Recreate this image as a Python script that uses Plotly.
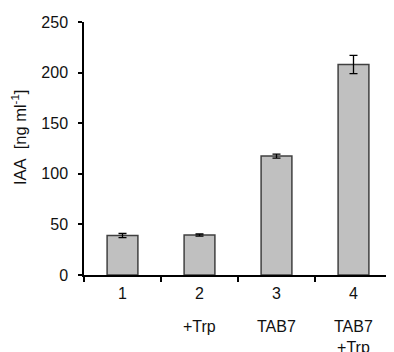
import plotly.graph_objects as go

categories = ["1", "2", "3", "4"]
sublabels = ["", "+Trp", "TAB7", "TAB7<br>+Trp"]
values = [39, 39.5, 117.5, 208]
errors = [2, 1, 2, 9]
y_ticks = [0, 50, 100, 150, 200, 250]

FONT = "Liberation Sans, Arial, sans-serif"

fig = go.Figure()
fig.add_trace(go.Bar(
    x=categories, y=values, width=0.4,
    marker=dict(color="#c0c0c0", line=dict(color="#404040", width=1.5)),
    error_y=dict(type="data", array=errors, visible=True, color="#000000",
                 thickness=1.3, width=4),
))

for i, s in enumerate(sublabels):
    if s:
        fig.add_annotation(x=i, y=0, xref="x", yref="y", text=s, showarrow=False,
                           xanchor="center", yanchor="top", yshift=-41,
                           font=dict(family=FONT, size=16, color="#111"),
                           align="center")

fig.add_annotation(xref="paper", yref="paper", x=0, y=0.545, xshift=-65,
                   xanchor="center", yanchor="middle",
                   text="IAA&nbsp;&nbsp;[ng ml<sup>-1</sup>]", textangle=-90, showarrow=False,
                   font=dict(family=FONT, size=16.5, color="#111"))

fig.update_layout(
    width=386, height=344,
    margin=dict(l=76, r=2, t=14, b=77),
    paper_bgcolor="white", plot_bgcolor="white",
    showlegend=False,
    font=dict(family=FONT, size=16, color="#111"),
    xaxis=dict(type="category", showline=True, linecolor="black", linewidth=1.5,
               ticks="outside", tickson="boundaries", ticklen=5, tickwidth=1.5,
               tickcolor="black", showgrid=False, zeroline=False, ticklabelstandoff=3,
               tickfont=dict(family=FONT, size=16, color="#111"), range=[-0.5, 3.5]),
    yaxis=dict(range=[0, 250], tickvals=y_ticks, showline=True, linecolor="black",
               linewidth=1.5, ticks="outside", ticklen=4, tickwidth=1.5, tickcolor="black",
               showgrid=False, zeroline=False, ticklabelstandoff=7,
               tickfont=dict(family=FONT, size=16, color="#111")),
)

fig.write_html("out.html")
